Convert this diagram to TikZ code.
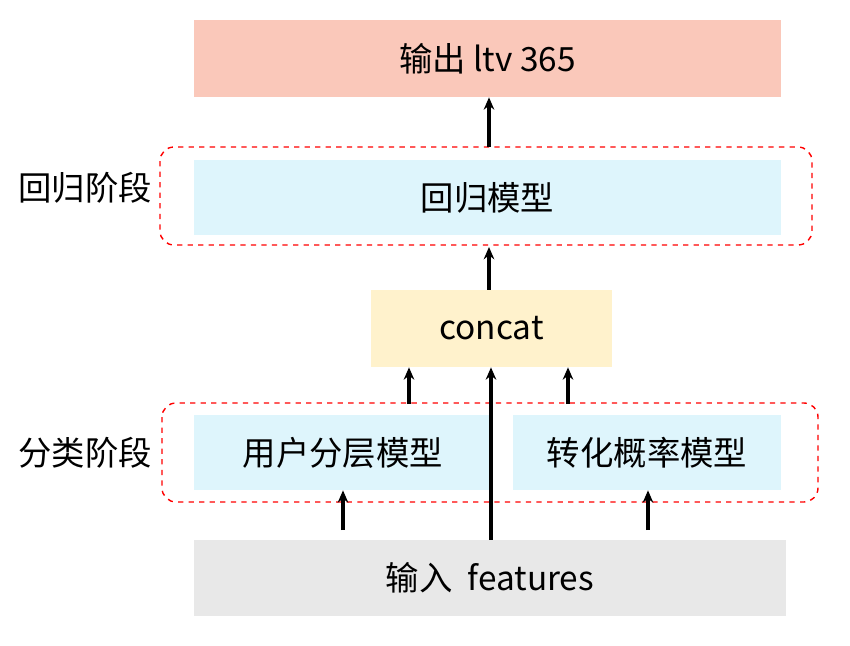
\documentclass[tikz,border=0pt]{standalone}
\usepackage{fontspec}
\setmainfont{Noto Sans CJK SC}
\usetikzlibrary{arrows.meta}
\definecolor{outcolor}{RGB}{250,200,186}
\definecolor{regcolor}{RGB}{222,245,252}
\definecolor{catcolor}{RGB}{255,242,204}
\definecolor{incolor}{RGB}{232,232,232}
\tikzset{
	,box/.style   = {rectangle, inner sep=0pt, font=\fontsize{19}{23}\selectfont}
	,stage/.style = {draw=red, dashed, rounded corners=8pt, line width=0.8pt}
	,link/.style  = {-{Stealth[length=7pt,width=6pt]}, line width=1.8pt}
}
\begin{document}
\begin{tikzpicture}[x=0.02cm,y=-0.02cm]
	\useasboundingbox (0,0) rectangle (850,646);

	% the stages
	\draw[stage] (160,147) rectangle (812,245);
	\draw[stage] (162,403) rectangle (818,502);
	\node[box] (lreg) at (85,188) {回归阶段};
	\node[box] (lcls) at (85,453) {分类阶段};

	% the boxes
	\node[box, fill=outcolor, minimum width=11.74cm, minimum height=1.54cm] (out) at (487.5,58.5) {输出 ltv 365};
	\node[box, fill=regcolor, minimum width=11.74cm, minimum height=1.5cm] (reg) at (487.5,197.5) {回归模型};
	\node[box, fill=catcolor, minimum width=4.82cm, minimum height=1.54cm] (cat) at (491.5,328.5) {concat};
	\node[box, fill=regcolor, minimum width=5.96cm, minimum height=1.5cm] (user) at (343,452.5) {用户分层模型};
	\node[box, fill=regcolor, minimum width=5.36cm, minimum height=1.5cm] (conv) at (647,452.5) {转化概率模型};
	\node[box, fill=incolor, minimum width=11.84cm, minimum height=1.52cm] (in) at (490,578) {输入\ \ features};

	% the arrows
	\coordinate (a1) at (489,147);
	\coordinate (a2) at (489,247);
	\draw[link] (a1) -- (out.south -| a1);
	\draw[link] (cat.north -| a2) -- (a2);
	\draw[link] (409,404) coordinate (a3) -- (cat.south -| a3);
	\draw[link] (568,404) coordinate (a4) -- (cat.south -| a4);
	\draw[link] (in.north -| 491,0) -- (cat.south -| 491,0);
	\draw[link] (343,530) coordinate (a5) -- (user.south);
	\draw[link] (648,530) coordinate (a6) -- (conv.south -| a6);
\end{tikzpicture}
\end{document}
